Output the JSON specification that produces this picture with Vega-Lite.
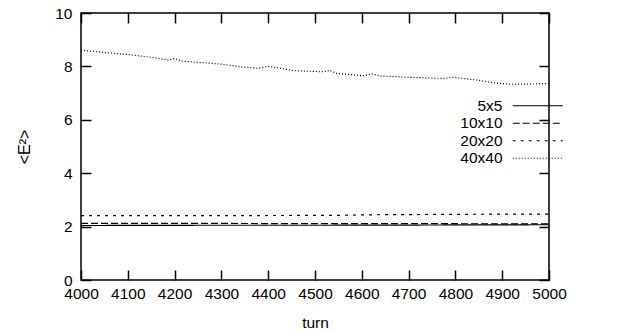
{
  "$schema": "https://vega.github.io/schema/vega-lite/v6.json",
  "width": 468,
  "height": 267,
  "autosize": {"type": "none"},
  "padding": {"left": 81, "top": 13, "right": 69, "bottom": 50},
  "config": {
    "font": "Liberation Sans",
    "view": {"stroke": "black", "strokeWidth": 1.5},
    "axis": {"labelFont": "Liberation Sans", "titleFont": "Liberation Sans", "labelFontSize": 15.5, "titleFontSize": 15.5, "titleFontWeight": "normal", "labelColor": "black", "titleColor": "black", "domain": false, "tickColor": "black", "tickWidth": 1.5, "tickSize": 10, "offset": -10, "grid": false, "labelFlush": false}
  },
  "data": {"values": [
    {"series": "5x5", "turn": 4000, "v": 2.04},
    {"series": "5x5", "turn": 4250, "v": 2.05},
    {"series": "5x5", "turn": 4500, "v": 2.05},
    {"series": "5x5", "turn": 4750, "v": 2.06},
    {"series": "5x5", "turn": 5000, "v": 2.07},
    {"series": "10x10", "turn": 4000, "v": 2.12},
    {"series": "10x10", "turn": 4250, "v": 2.12},
    {"series": "10x10", "turn": 4500, "v": 2.11},
    {"series": "10x10", "turn": 4750, "v": 2.11},
    {"series": "10x10", "turn": 5000, "v": 2.10},
    {"series": "20x20", "turn": 4000, "v": 2.41},
    {"series": "20x20", "turn": 4250, "v": 2.41},
    {"series": "20x20", "turn": 4550, "v": 2.42},
    {"series": "20x20", "turn": 4600, "v": 2.44},
    {"series": "20x20", "turn": 4800, "v": 2.46},
    {"series": "20x20", "turn": 5000, "v": 2.47},
    {"series": "40x40", "turn": 4000, "v": 8.61},
    {"series": "40x40", "turn": 4050, "v": 8.52},
    {"series": "40x40", "turn": 4098, "v": 8.45},
    {"series": "40x40", "turn": 4150, "v": 8.34},
    {"series": "40x40", "turn": 4187, "v": 8.24},
    {"series": "40x40", "turn": 4201, "v": 8.30},
    {"series": "40x40", "turn": 4215, "v": 8.20},
    {"series": "40x40", "turn": 4297, "v": 8.09},
    {"series": "40x40", "turn": 4340, "v": 7.99},
    {"series": "40x40", "turn": 4375, "v": 7.93},
    {"series": "40x40", "turn": 4400, "v": 8.00},
    {"series": "40x40", "turn": 4420, "v": 7.95},
    {"series": "40x40", "turn": 4454, "v": 7.84},
    {"series": "40x40", "turn": 4518, "v": 7.80},
    {"series": "40x40", "turn": 4531, "v": 7.85},
    {"series": "40x40", "turn": 4546, "v": 7.74},
    {"series": "40x40", "turn": 4603, "v": 7.65},
    {"series": "40x40", "turn": 4621, "v": 7.72},
    {"series": "40x40", "turn": 4640, "v": 7.64},
    {"series": "40x40", "turn": 4703, "v": 7.59},
    {"series": "40x40", "turn": 4774, "v": 7.55},
    {"series": "40x40", "turn": 4796, "v": 7.59},
    {"series": "40x40", "turn": 4845, "v": 7.49},
    {"series": "40x40", "turn": 4881, "v": 7.39},
    {"series": "40x40", "turn": 4917, "v": 7.33},
    {"series": "40x40", "turn": 4966, "v": 7.34},
    {"series": "40x40", "turn": 5000, "v": 7.36}
  ]},
  "layer": [
    {
      "mark": {"type": "line", "color": "black", "strokeWidth": 1.2},
      "encoding": {
        "x": {"field": "turn", "type": "quantitative", "scale": {"domain": [4000, 5000], "nice": false, "zero": false},
          "axis": {"orient": "bottom", "title": "turn", "values": [4000,4100,4200,4300,4400,4500,4600,4700,4800,4900,5000], "format": "d", "labelPadding": 6.5, "titlePadding": 13}},
        "y": {"field": "v", "type": "quantitative", "scale": {"domain": [0, 10], "nice": false},
          "axis": {"orient": "left", "title": "<E²>", "titleFontSize": 16, "values": [0,2,4,6,8,10], "labelPadding": 9, "titlePadding": 22}},
        "strokeDash": {"field": "series", "type": "nominal",
          "scale": {"domain": ["5x5", "10x10", "20x20", "40x40"], "range": [[1, 0], [7, 3], [3, 5], [1, 2]]},
          "legend": {"title": null, "orient": "none", "legendX": 424, "legendY": 85, "padding": 0,
            "symbolType": "M0,0H10", "symbolSize": 100, "symbolStrokeColor": "black", "symbolStrokeWidth": 1.2,
            "labelAlign": "right", "labelOffset": -18, "labelFontSize": 15.5, "labelFont": "Liberation Sans", "labelColor": "black", "rowPadding": 0.5, "labelLimit": 0}}
      }
    },
    {
      "mark": {"type": "line", "opacity": 0},
      "encoding": {
        "x": {"field": "turn", "type": "quantitative", "axis": {"orient": "top", "title": null, "labels": false, "values": [4000,4100,4200,4300,4400,4500,4600,4700,4800,4900,5000]}},
        "y": {"field": "v", "type": "quantitative", "axis": {"orient": "right", "title": null, "labels": false, "values": [0,2,4,6,8,10]}},
        "detail": {"field": "series"}
      }
    }
  ],
  "resolve": {"axis": {"x": "independent", "y": "independent"}}
}
